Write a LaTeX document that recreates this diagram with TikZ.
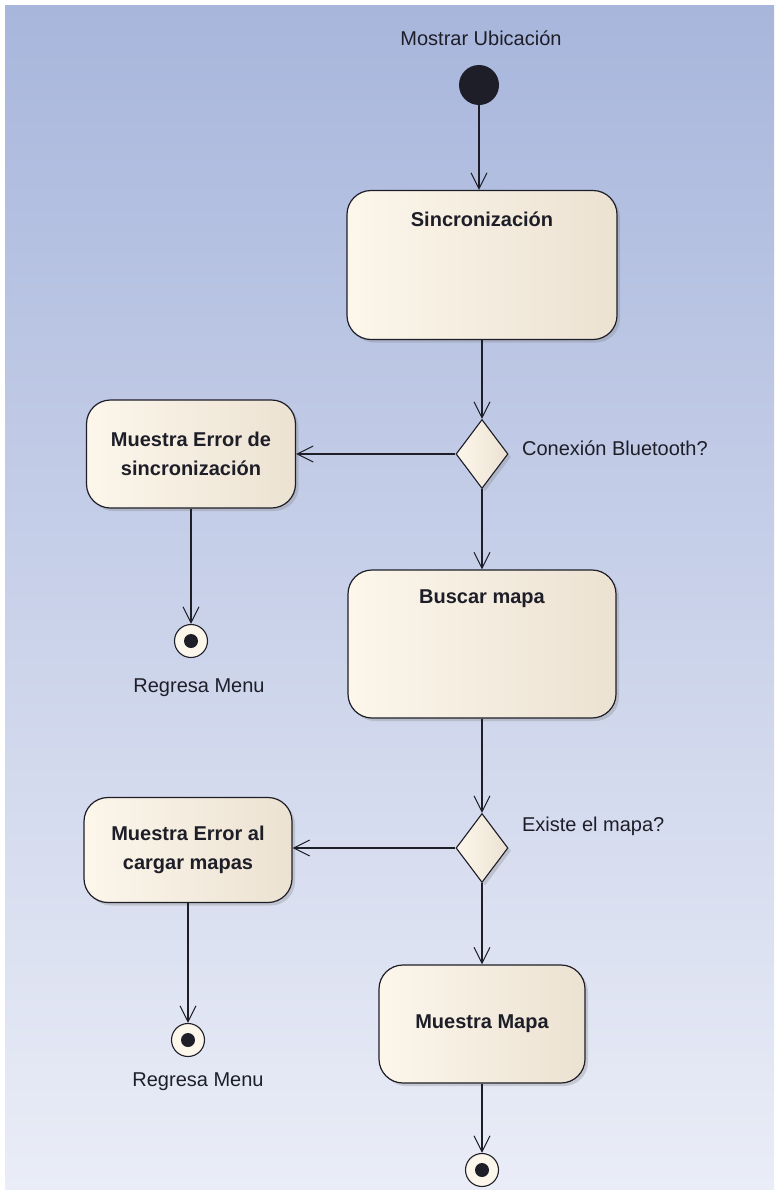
\documentclass[tikz,border=0pt]{standalone}
\usepackage{fontspec}
\setmainfont{Liberation Sans}
\usepackage{tikz}
\usetikzlibrary{shapes,arrows.meta}
\usetikzlibrary{positioning}
\usetikzlibrary{shadows}

\definecolor{bgtop}{RGB}{168,182,220}
\definecolor{bgbot}{RGB}{234,237,247}
\definecolor{boxl}{RGB}{252,246,235}
\definecolor{boxr}{RGB}{236,226,210}
\definecolor{ink}{RGB}{30,30,40}

\begin{document}
\begin{tikzpicture}[x=1pt,y=-1pt,
  every node/.style={font=\fontsize{20}{29}\selectfont,text=ink,align=center},
  title/.style={font=\fontsize{20}{29}\selectfont\bfseries},
  action/.style={draw=ink,line width=1.2pt,rounded corners=24pt,
    left color=boxl,right color=boxr,
    drop shadow={shadow xshift=3pt,shadow yshift=-3pt,opacity=.3}},
  decision/.style={diamond,draw=ink,line width=1.1pt,inner sep=0pt,
    left color=boxl,right color=boxr,minimum width=52,minimum height=69,
    drop shadow={shadow xshift=3pt,shadow yshift=-3pt,opacity=.3}},
  start/.style={circle,fill=ink,minimum size=40,inner sep=0pt},
  final/.style={circle,draw=ink,line width=1.1pt,fill=boxl,minimum size=33,inner sep=0pt,
    path picture={\fill[ink] (path picture bounding box.center) circle (7pt);}},
  flow/.style={draw=ink,line width=1.2pt,
    -{Straight Barb[length=16pt,width=16pt,line width=1pt]}}]

  % fondo
  \useasboundingbox (0,0) rectangle (774,1194);
  \fill[white] (0,0) rectangle (774,1194);
  \shade[top color=bgtop,bottom color=bgbot] (5,5) rectangle (774,1189);

  \def \cx {482}

  \begin{scope}

    \node[start] (ini) at (479,85) {} node (tini) at (481,38) {Mostrar Ubicación};

    \node[action,minimum width=270,minimum height=149] (sinc) at (\cx,265) {}
    node[title] (tsinc) at ([yshift=-29]sinc.north) {Sincronización};

    \node[decision] (dec1) at (\cx,454) {};
    \node[anchor=west] (q1) at ([xshift=10,yshift=6]dec1.east) {Conexión Bluetooth?};

    \node[action,minimum width=209,minimum height=108,title] (err1) at (191,454)
    {Muestra Error de\\sincronización};
    \node[final] (fin1) at (191,641) {} node (tfin1) at (199,688) {Regresa Menu};

    \node[action,minimum width=268,minimum height=148] (busca) at (\cx,644) {}
    node[title] (tbusca) at ([yshift=-29]busca.north) {Buscar mapa};

    \node[decision] (dec2) at (\cx,848) {};
    \node[anchor=west] (q2) at ([xshift=10,yshift=22]dec2.east) {Existe el mapa?};

    \node[action,minimum width=208,minimum height=105,title] (err2) at (188,850)
    {Muestra Error al\\cargar mapas};
    \node[final] (fin2) at (188,1040) {} node (tfin2) at (198,1082) {Regresa Menu};

    \node[action,minimum width=206,minimum height=118,title] (mapa) at (\cx,1024)
    {Muestra Mapa};
    \node[final] (fin3) at (\cx,1170) {};

  \end{scope}

  % flujo
  \draw[flow] (ini) -- (ini |- sinc.north);
  \draw[flow] (sinc) -- (dec1);
  \draw[flow] (dec1) -- (err1);
  \draw[flow] (err1) -- (fin1);
  \draw[flow] (dec1) -- (busca);
  \draw[flow] (busca) -- (dec2);
  \draw[flow] (dec2) -- (dec2 -| err2.east);
  \draw[flow] (err2) -- (fin2);
  \draw[flow] (dec2) -- (mapa);
  \draw[flow] (mapa) -- (fin3);

\end{tikzpicture}
\end{document}
